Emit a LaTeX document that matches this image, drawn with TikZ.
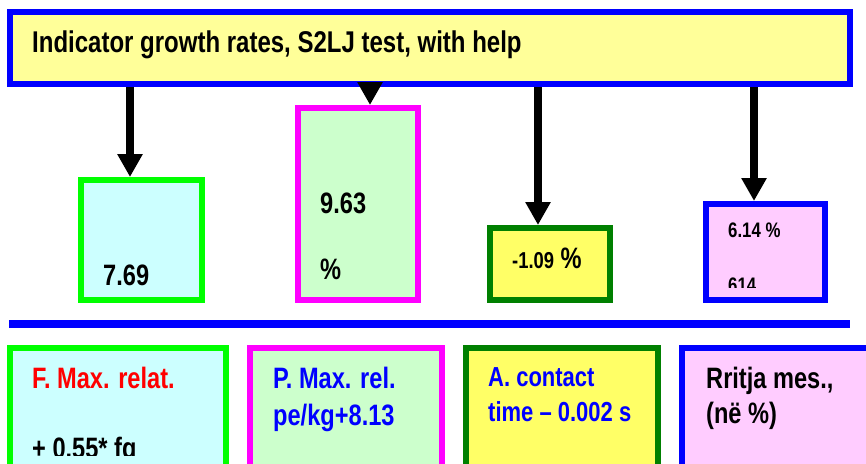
\documentclass[tikz,border=0pt]{standalone}
\usepackage{fontspec}
\setmainfont{Liberation Sans}[FakeStretch=0.8]
\usetikzlibrary{arrows.meta}
\definecolor{titlefill}{HTML}{FFFF99}
\definecolor{lblue}{HTML}{0000FF}
\definecolor{lred}{HTML}{FF0000}
\definecolor{lmagenta}{HTML}{FF00FF}
\definecolor{lgreen}{HTML}{00FF00}
\definecolor{dgreen}{HTML}{008000}
\definecolor{cyanfill}{HTML}{CCFFFF}
\definecolor{mintfill}{HTML}{CCFFCC}
\definecolor{yelfill}{HTML}{FFFF66}
\definecolor{pinkfill}{HTML}{FFCCFF}

\begin{document}
\begin{tikzpicture}[x=1pt,y=-1pt,
    vbox/.style 2 args={draw=#1,fill=#2,line width=6pt,anchor=north west,inner sep=0pt},
    txt/.style={anchor=base west,inner sep=0pt,font=\bfseries\fontsize{29.5}{34}\selectfont},
    arr/.style={line width=8pt,-{Triangle[width=24pt,length=23pt]}}]
    \useasboundingbox (0,0) rectangle (866,463);
    \clip (0,0) rectangle (866,463);
    \node[vbox={lblue}{titlefill},minimum width=840pt,minimum height=72pt] (title) at (7,9) {};
    \node[txt,font=\bfseries\fontsize{30}{35}\selectfont] (ttext) at (32,52) {Indicator growth rates, S2LJ test, with help};
    \node[vbox={lgreen}{cyanfill},minimum width=121pt,minimum height=120pt] (fval) at (78,177) {};
    \node[vbox={lmagenta}{mintfill},minimum width=120pt,minimum height=192pt] (pval) at (295,105) {};
    \node[vbox={dgreen}{yelfill},minimum width=120pt,minimum height=72pt] (aval) at (487,225) {};
    \node[vbox={lblue}{pinkfill},minimum width=119pt,minimum height=96pt] (rval) at (703,201) {};
    \draw[arr] ([xshift=-11.5pt]fval.north |- title.south) -- ([xshift=-11.5pt]fval.north);
    \draw[arr] ([xshift=12pt]pval.north |- title.south) -- ([xshift=12pt]pval.north);
    \draw[arr] ([xshift=-12pt]aval.north |- title.south) -- ([xshift=-12pt]aval.north);
    \draw[arr] ([xshift=-11.5pt]rval.north |- title.south) -- ([xshift=-11.5pt]rval.north);
    \node[txt] (fnum) at (103,285) {7.69};
    \node[txt] (pnum) at (320,213) {9.63};
    \node[txt] (ppct) at (320,279) {\%};
    \node[txt] (anum) at (512,268) {{\fontsize{23}{27}\selectfont -1.09} \%};
    \node[txt,font=\bfseries\fontsize{21}{25}\selectfont] (rnum) at (728,237) {6.14 \%};
    \begin{scope}
        \clip (700,200) rectangle (830,287);
        \node[txt,font=\bfseries\fontsize{21}{25}\selectfont] (rcut) at (728,292) {614};
    \end{scope}
    \draw[lblue,line width=8pt] (9,324) -- (850,324);
    \node[vbox={lgreen}{cyanfill},minimum width=216pt,minimum height=140pt] (fname) at (7,345) {};
    \node[vbox={lmagenta}{mintfill},minimum width=192pt,minimum height=140pt] (pname) at (247,345) {};
    \node[vbox={dgreen}{yelfill},minimum width=192pt,minimum height=140pt] (aname) at (463,345) {};
    \node[vbox={lblue}{pinkfill},minimum width=200pt,minimum height=140pt] (rname) at (679,345) {};
    \node[txt,lred] (fline1) at (32,388) {F. Max. relat.};
    \begin{scope}
        \clip (10,348) rectangle (226,455);
        \node[txt] (fline2) at (32,458) {+ 0.55* fg};
    \end{scope}
    \node[txt,lblue] (pline1) at (273,388) {P. Max. rel.};
    \node[txt,lblue] (pline2) at (273,425) {pe/kg+8.13};
    \node[txt,lblue,font=\bfseries\fontsize{27.5}{32}\selectfont] (aline1) at (488,386) {A. contact};
    \node[txt,lblue,font=\bfseries\fontsize{27.5}{32}\selectfont] (aline2) at (488,421) {time – 0.002 s};
    \node[txt] (rline1) at (706,388) {Rritja mes.,};
    \node[txt] (rline2) at (706,423) {(në \%)};
\end{tikzpicture}
\end{document}
